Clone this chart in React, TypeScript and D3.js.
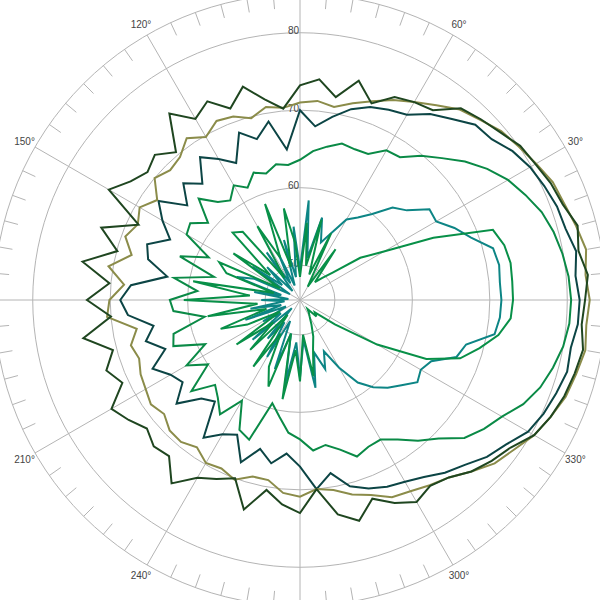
import React from "react";
import * as d3 from "d3";

const angles: number[] = d3.range(0, 360, 5);

const darkGreen: number[] = [
  82.3, 82.8, 82.0, 82.6, 81.6, 81.2, 80.6, 80.2, 79.2, 78.5, 77.8, 75.4,
  75.0, 74.4, 72.5, 74.8, 72.1, 74.1, 73.2, 70.3, 71.8, 74.0, 71.8, 73.8,
  72.5, 74.9, 70.4, 72.0, 71.2, 72.2, 74.0, 68.5, 72.8, 69.9, 74.0, 70.2,
  73.0, 70.0, 73.9, 70.5, 72.1, 70.8, 73.6, 72.5, 71.3, 72.2, 71.8, 74.4,
  72.0, 71.0, 70.0, 73.5, 70.4, 72.0, 73.0, 70.0, 73.6, 75.0, 72.8, 74.4,
  75.6, 74.8, 75.4, 76.8, 77.8, 78.7, 80.4, 81.2, 81.8, 82.2, 82.6, 82.0,
];
const olive: number[] = [
  82.9, 82.5, 83.0, 82.4, 81.8, 81.5, 80.7, 80.0, 79.4, 78.4, 77.6, 76.2,
  75.0, 74.0, 72.8, 71.8, 70.8, 71.3, 71.0, 70.4, 70.8, 69.8, 70.7, 71.0,
  69.8, 71.0, 69.6, 69.2, 70.0, 68.0, 69.4, 68.6, 69.5, 68.0, 70.6, 68.3,
  70.1, 70.5, 66.9, 68.1, 67.6, 68.2, 68.5, 69.0, 68.4, 69.3, 69.4, 68.7,
  69.8, 69.5, 70.2, 69.1, 69.1, 70.5, 70.9, 70.0, 70.4, 71.5, 72.3, 73.6,
  74.0, 74.7, 75.4, 76.8, 78.3, 79.2, 80.4, 81.2, 82.0, 82.4, 82.9, 82.6,
];
const darkTeal: number[] = [
  81.6, 81.2, 81.7, 81.0, 80.8, 80.3, 79.8, 79.0, 77.8, 77.5, 76.0, 74.8,
  73.1, 72.6, 72.0, 71.0, 69.5, 68.0, 70.0, 65.0, 68.9, 67.0, 68.5, 65.0,
  66.5, 68.0, 65.1, 66.8, 64.5, 67.8, 66.0, 64.0, 66.5, 65.8, 62.9, 67.4,
  68.7, 67.8, 64.7, 66.1, 64.0, 66.5, 64.8, 64.0, 66.3, 63.5, 62.6, 67.2,
  65.5, 64.7, 67.8, 65.4, 66.9, 65.4, 67.0, 70.0, 68.2, 70.4, 71.4, 72.1,
  72.6, 73.4, 74.6, 75.6, 77.0, 78.0, 79.5, 80.2, 80.7, 81.2, 81.0, 81.5,
];
const green: number[] = [
  80.5, 80.3, 79.9, 79.4, 78.7, 77.6, 76.5, 75.0, 73.3, 71.4, 69.8, 68.0,
  67.8, 66.3, 66.2, 66.4, 65.6, 64.8, 63.6, 63.0, 63.3, 62.4, 63.0, 61.5,
  62.6, 61.2, 62.0, 64.0, 61.0, 62.8, 62.4, 58.5, 62.0, 57.0, 62.0, 58.8,
  62.3, 61.9, 58.0, 62.4, 62.9, 59.0, 62.4, 60.0, 63.8, 61.0, 62.0, 63.5,
  60.5, 64.0, 64.7, 59.3, 60.8, 62.7, 63.5, 65.0, 64.5, 65.5, 67.0, 66.4,
  66.3, 67.5, 69.2, 70.8, 73.2, 74.5, 75.6, 77.3, 78.5, 79.3, 80.0, 80.4,
];
const greenLobe: number[] = [
  73.0, 73.0, 73.1, 72.8, 72.0, 64.5, 58.0, 55.0, 51.0, 49.5, 48.5, 53.5,
  47.5, 55.0, 49.0, 56.2, 50.0, 55.5, 48.5, 53.0, 57.5, 50.0, 58.7, 51.5,
  56.5, 49.0, 57.0, 57.8, 50.5, 56.0, 48.5, 57.0, 55.6, 49.0, 59.5, 52.0,
  60.5, 51.0, 57.6, 50.0, 56.4, 53.0, 48.5, 55.5, 50.0, 54.6, 48.0, 56.0,
  50.5, 55.0, 57.4, 50.0, 58.5, 52.0, 56.0, 50.0, 55.5, 52.0, 50.5, 49.0,
  48.0, 47.5, 47.0, 48.5, 48.0, 51.0, 57.0, 63.5, 67.5, 69.5, 71.5, 72.8,
];
const teal: number[] = [
  71.5, 71.4, 71.6, 71.3, 69.0, 67.5, 65.8, 65.9, 63.5, 62.4, 60.0, 58.5,
  57.5, 55.0, 53.4, 56.5, 51.0, 58.4, 49.5, 55.0, 48.5, 53.5, 47.5, 52.0,
  48.0, 53.0, 47.0, 51.5, 48.5, 53.0, 47.0, 52.0, 54.2, 48.0, 51.5, 47.0,
  50.5, 47.5, 52.0, 48.0, 53.0, 47.5, 51.0, 48.5, 53.5, 47.0, 52.0, 49.0,
  54.0, 48.5, 55.0, 50.0, 56.5, 51.0, 55.5, 50.7, 57.0, 52.5, 55.0, 52.8,
  55.6, 58.5, 60.2, 61.5, 62.6, 64.0, 63.5, 64.2, 67.0, 67.7, 71.0, 71.4,
];

const seriesNames = ["teal", "greenLobe", "green", "darkTeal", "olive", "darkGreen"];
const seriesValues = [teal, greenLobe, green, darkTeal, olive, darkGreen];
const seriesColors = ["#0d8585", "#089048", "#0a8a46", "#0c4545", "#8b8c4a", "#1f4620"];

const ringValues: number[] = [50, 60, 70, 80];
const ringLabels: string[] = ["50", "60", "70", "80"];
const spokeAngles: number[] = d3.range(0, 360, 30);
const tickAngles: number[] = d3.range(0, 360, 5).filter((a) => a % 30 !== 0);
// labels that fall inside the visible frame (0°, 90°, 180°, 270° lie beyond the edge)
const angleLabels: number[] = [30, 60, 120, 150, 210, 240, 300, 330];

const W = 600;
const H = 600;
const cx = 300;
const cy = 300;
const outerR = 306;

export default function App() {
  const r = d3.scaleLinear().domain([45.5, 85]).range([0, outerR]);
  const rad = (deg: number) => (deg * Math.PI) / 180;
  const px = (deg: number, rr: number) => cx + rr * Math.cos(rad(deg));
  const py = (deg: number, rr: number) => cy - rr * Math.sin(rad(deg));

  const line = d3
    .lineRadial<[number, number]>()
    .angle((d) => rad(90 - d[0]))
    .radius((d) => r(Math.max(45.5, d[1])))
    .curve(d3.curveLinearClosed);

  const gridColor = "#b4b4b4";
  const font = "'Liberation Sans', Arial, sans-serif";

  return (
    <svg
      width={W}
      height={H}
      style={{ position: "absolute", left: 0, top: 0, background: "#fff" }}
    >
      <rect x={0} y={0} width={W} height={H} fill="#fff" />
      <g>
        {ringValues.map((v) => (
          <circle key={v} cx={cx} cy={cy} r={r(v)} fill="none" stroke={gridColor} strokeWidth={1} />
        ))}
        <circle cx={cx} cy={cy} r={outerR} fill="none" stroke={gridColor} strokeWidth={1} />
        {spokeAngles.map((a) => (
          <line
            key={"s" + a}
            x1={cx}
            y1={cy}
            x2={px(a, outerR)}
            y2={py(a, outerR)}
            stroke={gridColor}
            strokeWidth={1}
          />
        ))}
        {tickAngles.map((a) => (
          <line
            key={"t" + a}
            x1={px(a, outerR - 14)}
            y1={py(a, outerR - 14)}
            x2={px(a, outerR)}
            y2={py(a, outerR)}
            stroke={gridColor}
            strokeWidth={1}
          />
        ))}
        {angleLabels.map((a) => (
          <text
            key={"al" + a}
            x={px(a, 318)}
            y={py(a, 318)}
            textAnchor="middle"
            dominantBaseline="central"
            fontFamily={font}
            fontSize={10}
            fill="#444"
          >
            {a + "°"}
          </text>
        ))}
        {ringValues.map((v, i) => (
          <text
            key={"rl" + v}
            x={cx - 1}
            y={cy - r(v) - 2}
            textAnchor="end"
            dominantBaseline="central"
            fontFamily={font}
            fontSize={10}
            fill="#444"
          >
            {ringLabels[i]}
          </text>
        ))}
      </g>
      <g transform={`translate(${cx},${cy})`}>
        {seriesValues.map((vals, i) => (
          <path
            key={seriesNames[i]}
            d={line(angles.map((a, j) => [a, vals[j]] as [number, number])) || ""}
            fill="none"
            stroke={seriesColors[i]}
            strokeWidth={2}
            strokeLinejoin="miter"
          />
        ))}
      </g>
    </svg>
  );
}
